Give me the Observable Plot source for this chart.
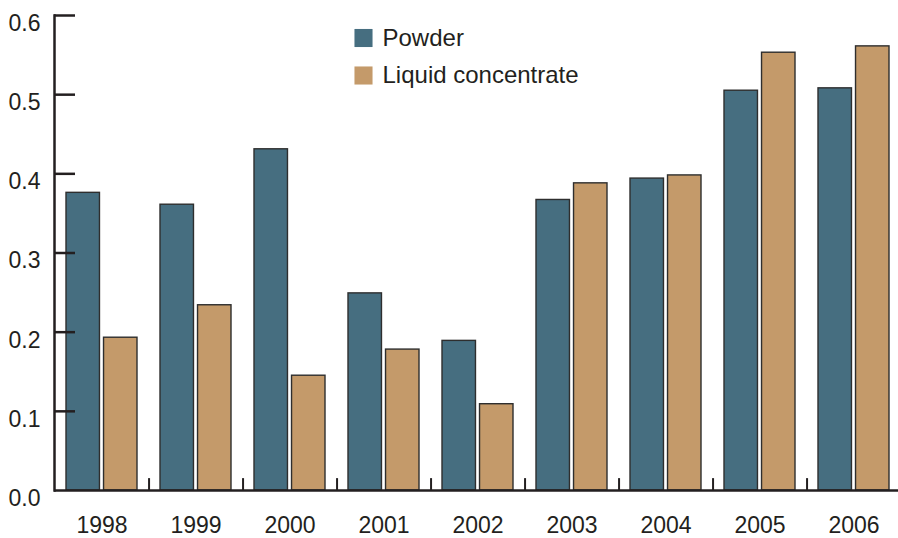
<!DOCTYPE html>
<html>
<head>
<meta charset="utf-8">
<script src="https://cdn.jsdelivr.net/npm/d3@7"></script>
<script src="https://cdn.jsdelivr.net/npm/@observablehq/plot@0.6"></script>
<style>
  html, body { margin: 0; padding: 0; background: #fff; }
  #chart svg { display: block; }
</style>
</head>
<body>
<div id="chart"></div>
<script>
const years = ["1998", "1999", "2000", "2001", "2002", "2003", "2004", "2005", "2006"];
const powder = [0.376, 0.361, 0.431, 0.249, 0.189, 0.367, 0.394, 0.505, 0.508];
const liquid = [0.193, 0.234, 0.145, 0.178, 0.109, 0.388, 0.398, 0.553, 0.561];
const yTicks = [0.1, 0.2, 0.3, 0.4, 0.5, 0.6];
const yTickLabels = ["0.0", "0.1", "0.2", "0.3", "0.4", "0.5", "0.6"];
const seriesNames = ["Powder", "Liquid concentrate"];
const seriesColors = ["#466e80", "#c49a6a"];

const rows = years.map((year, i) => ({year, powder: powder[i], liquid: liquid[i]}));

const W = 898, H = 538;
const mL = 54, mR = -3, mT = 15, mB = 48;
const frameW = W - mL - mR;
const padInner = 0.245;
const step = frameW / years.length;
const bandwidth = step * (1 - padInner);
const halfInset = bandwidth / 2 + 2;
const ink = "#231f20";
const font = "'Liberation Sans', Arial, Helvetica, sans-serif";

const legend = seriesNames.map((name, i) => ({name, color: seriesColors[i], i}));
const legendDy = [22.5, 60];

const chart = Plot.plot({
  width: W,
  height: H,
  marginLeft: mL,
  marginRight: mR,
  marginTop: mT,
  marginBottom: mB,
  style: {fontFamily: font, fontSize: "23px", color: ink, background: "#fff"},
  x: {type: "band", domain: years, paddingInner: padInner, paddingOuter: padInner / 2, label: null},
  y: {domain: [0, 0.6], label: null},
  marks: [
    Plot.barY(rows, {x: "year", y: "powder", fill: seriesColors[0], stroke: "#2e2e2e", strokeWidth: 1.4, insetRight: halfInset}),
    Plot.barY(rows, {x: "year", y: "liquid", fill: seriesColors[1], stroke: "#2e2e2e", strokeWidth: 1.4, insetLeft: halfInset}),
    Plot.frame({anchor: "left", stroke: ink, strokeWidth: 2.5}),
    Plot.ruleY(yTicks, {y: d => d, stroke: ink, strokeWidth: 2.5, insetRight: frameW - 21}),
    Plot.ruleY([0], {stroke: ink, strokeWidth: 2.5}),
    Plot.ruleX(years.slice(0, -1), {x: d => d, y1: 0, y2: 0.015, dx: step / 2, stroke: ink, strokeWidth: 2}),
    Plot.axisY({ticks: [0, ...yTicks], tickFormat: d => yTickLabels[Math.round(d * 10)], tickSize: 0, tickPadding: 14, dy: 8, fontSize: 23, fill: ink, label: null}),
    Plot.axisX({tickSize: 0, tickPadding: 26.5, fontSize: 23, fill: ink, label: null}),
    Plot.dot(legend.filter(d => d.i === 0), {frameAnchor: "top-left", dx: 309, dy: legendDy[0], symbol: "square", r: 10.2, fill: "color", stroke: null}),
    Plot.dot(legend.filter(d => d.i === 1), {frameAnchor: "top-left", dx: 309, dy: legendDy[1], symbol: "square", r: 10.2, fill: "color", stroke: null}),
    Plot.text(legend.filter(d => d.i === 0), {frameAnchor: "top-left", dx: 328, dy: legendDy[0], lineAnchor: "middle", text: "name", textAnchor: "start", fontSize: 24, fill: ink}),
    Plot.text(legend.filter(d => d.i === 1), {frameAnchor: "top-left", dx: 328, dy: legendDy[1], lineAnchor: "middle", text: "name", textAnchor: "start", fontSize: 24, fill: ink})
  ]
});
document.getElementById("chart").append(chart);
</script>
</body>
</html>
